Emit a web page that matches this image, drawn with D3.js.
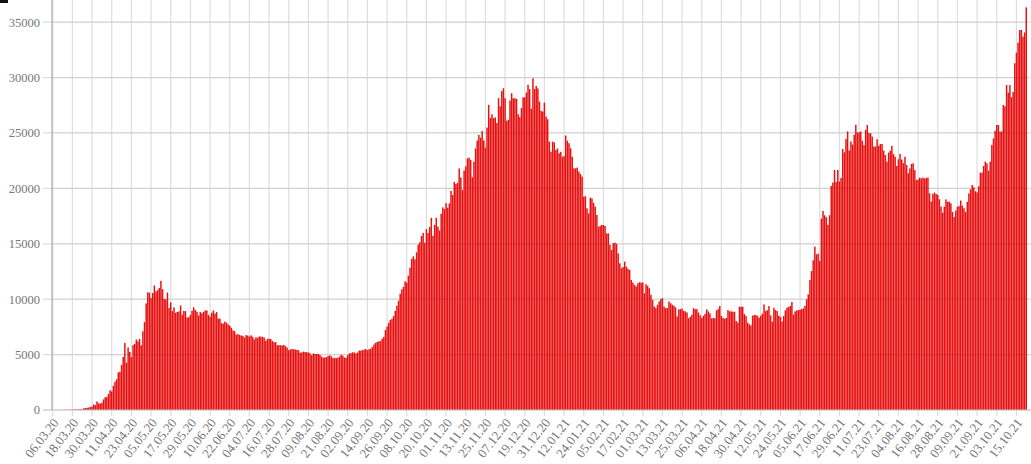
<!DOCTYPE html>
<html><head><meta charset="utf-8">
<script src="https://cdn.jsdelivr.net/npm/d3@7"></script>
<style>body{margin:0;background:#fff;overflow:hidden} svg{display:block}</style>
</head><body>
<svg id="c" width="1031" height="464"></svg>
<script>
// Daily values, one array per month (first array starts on 06.03.2020)
const mar20 = [0,6,3,1,3,8,6,17,14,4,30,21,33,52,54,53,61,71,57,163,182,196,228,270,302,501];
const apr20 = [440,771,601,582,658,954,1154,1175,1459,1786,1667,2186,2558,2774,3388,3448,4070,4785,6060,4268,5642,5236,4774,5849,5966,6361,6198,6411,5841,7099];
const may20 = [7933,9623,10633,10581,10102,10559,11231,10699,10817,11012,11656,10899,10028,9974,10598,9200,9709,8926,9263,8764,8849,8894,9434,8599,8946,8915,8338,8371,8572,8952,9268];
const jun20 = [9035,8863,8536,8831,8726,8855,8984,8985,8595,8404,8779,8987,8706,8835,8246,8248,7843,7790,7972,7889,7728,7600,7425,7176,7113,6800,6852,6791,6719,6693];
const jul20 = [6556,6760,6718,6632,6736,6611,6368,6562,6509,6635,6611,6615,6537,6248,6422,6428,6406,6234,6109,6139,5842,5862,5848,5811,5871,5765,5635,5395,5475,5509,5482];
const aug20 = [5462,5427,5394,5159,5204,5267,5241,5212,5189,5118,4945,5102,5057,5061,5065,4969,4839,4718,4748,4767,4870,4921,4852,4687,4696,4676,4711,4829,4980,4897,4729];
const sep20 = [4729,4952,5110,5130,5205,5195,5099,5185,5363,5363,5406,5449,5509,5394,5488,5529,5670,5905,6065,6148,6196,6215,6431,6595,7212,7523,7867,8135,8232,8481];
const oct20 = [8945,9412,9859,10499,10888,11115,11615,11493,12126,12846,13634,13868,13592,14231,14922,15150,15700,15982,15099,16319,15971,16521,17340,15710,16710,17347,16550,16202,17717,18283,18140];
const nov20 = [18665,18257,18648,19768,19404,20582,20396,20498,21798,20977,19851,21608,21983,22702,22778,22572,21000,22410,23610,24318,24822,24581,25173,24326,23675,25487,27543,26338,26683,26338];
const dec20 = [26402,25900,28145,27403,28782,29039,28137,26097,26190,27927,28585,28137,28134,28080,26689,26431,27250,28214,28209,28650,29350,28950,27200,29935,28970,29240,29018,27830,27000,26930,27740];
const jan21 = [26480,26240,24220,23310,24220,24150,23460,23600,23160,23300,22860,22900,24770,24300,24080,23620,22850,21810,21800,21880,21510,21300,21060,19250,19290,18200,17750,19160,19100,18700,18350];
const feb21 = [17600,16540,16600,16690,16690,16600,15940,15940,14900,14440,15040,15100,15000,14140,13240,12790,12900,13390,12940,12740,12640,11740,11500,11290,11140,11440,11530,11500];
const mar21 = [11500,10540,11350,11200,10990,10400,9940,9340,9200,9500,9790,10000,10090,9340,9190,9200,9790,9640,9500,9400,9270,8430,9090,9100,9150,8940,8900,8800,8280,8400,8600];
const apr21 = [9190,9100,9100,8800,8550,8300,8500,8660,9080,8900,8720,8270,8300,8270,8990,9100,9380,8480,8300,8240,8300,9020,8900,8900,8870,8870,8030,7880,9320,9320];
const may21 = [9320,8660,8480,7880,7730,7640,8510,8570,8570,8500,8330,8510,8700,9530,8930,9000,9380,8540,7980,9230,9020,8930,8510,8400,7980,8480,8990,9230,9300,9380,9740];
const jun21 = [8630,8900,8990,9020,9050,9110,9170,9400,9990,10440,11730,12540,13510,14740,14050,14110,13450,17270,17960,17570,17400,16700,17570,20220,20520,21660,20580,21660,20620,20940];
const jul21 = [23550,23250,24450,25140,23430,24240,23960,24840,25740,25050,25050,25140,24300,23900,25290,25720,24990,24970,24670,23770,23770,24430,23830,24010,24000,23400,23010,22410,23230,23400,23830];
const aug21 = [23100,22860,22020,22620,23100,22600,22270,22860,22110,21360,21800,22200,22260,21650,20750,20800,20980,20900,20980,20900,20940,20980,19560,18810,19500,19620,19500,19400,19010,18350,17810];
const sep21 = [18350,19010,18800,18800,18650,17870,17420,18000,18350,18400,18900,18450,18200,17870,18780,19550,19920,20310,20100,19740,19640,20200,21420,21420,22020,22410,22260,21600,22410,23910];
const oct21 = [24510,25200,25720,25720,25130,25130,27530,27400,29330,28640,29330,28230,28700,31290,32250,33150,34290,34290,33690,34073,36340];

const monthStarts = ["2020-03-06","2020-04-01","2020-05-01","2020-06-01","2020-07-01","2020-08-01","2020-09-01","2020-10-01","2020-11-01","2020-12-01","2021-01-01","2021-02-01","2021-03-01","2021-04-01","2021-05-01","2021-06-01","2021-07-01","2021-08-01","2021-09-01","2021-10-01"];
const monthValues = [mar20,apr20,may20,jun20,jul20,aug20,sep20,oct20,nov20,dec20,jan21,feb21,mar21,apr21,may21,jun21,jul21,aug21,sep21,oct21];

const tickLabels = ["06.03.20","18.03.20","30.03.20","11.04.20","23.04.20","05.05.20","17.05.20","29.05.20","10.06.20","22.06.20","04.07.20","16.07.20","28.07.20","09.08.20","21.08.20","02.09.20","14.09.20","26.09.20","08.10.20","20.10.20","01.11.20","13.11.20","25.11.20","07.12.20","19.12.20","31.12.20","12.01.21","24.01.21","05.02.21","17.02.21","01.03.21","13.03.21","25.03.21","06.04.21","18.04.21","30.04.21","12.05.21","24.05.21","05.06.21","17.06.21","29.06.21","11.07.21","23.07.21","04.08.21","16.08.21","28.08.21","09.09.21","21.09.21","03.10.21","15.10.21"];
const yTicks = [0,5000,10000,15000,20000,25000,30000,35000];

(function () {
const W = 1031, H = 464;
const pLeft = 52, pRight = 1027, pTop = 0, pBottom = 410;
const parse = d3.utcParse("%Y-%m-%d");
const fmt = d3.utcFormat("%d.%m.%y");

const data = [];
monthValues.forEach((vals, k) => {
  const s = parse(monthStarts[k]);
  vals.forEach((v, i) => data.push({ key: fmt(d3.utcDay.offset(s, i)), value: v }));
});

const x = d3.scaleBand().domain(data.map(d => d.key)).range([pLeft, pRight]).paddingInner(0.1).paddingOuter(0);
const y = d3.scaleLinear().domain([0, 37000]).range([pBottom, pTop]);

const svg = d3.select("#c");
const font = "'Liberation Serif', 'DejaVu Serif', serif";
const tx = k => x(k) + x.bandwidth() / 2;

svg.append("g").selectAll("line").data(tickLabels).join("line")
  .attr("x1", tx).attr("x2", tx).attr("y1", 0).attr("y2", pBottom + 6)
  .attr("stroke", "#dddddd").attr("stroke-width", 1.2);
svg.append("g").selectAll("line").data(yTicks).join("line")
  .attr("x1", 43).attr("x2", W).attr("y1", d => y(d)).attr("y2", d => y(d))
  .attr("stroke", "#dddddd").attr("stroke-width", 1.2);

svg.append("g").selectAll("rect").data(data).join("rect")
  .attr("x", d => x(d.key)).attr("width", x.bandwidth())
  .attr("y", d => y(d.value)).attr("height", d => y(0) - y(d.value))
  .attr("fill", "#e81111");

svg.append("g").selectAll("line").data(yTicks.slice(1)).join("line")
  .attr("x1", pLeft).attr("x2", pRight).attr("y1", d => y(d)).attr("y2", d => y(d))
  .attr("stroke", "rgba(0,0,0,0.06)").attr("stroke-width", 1.2);

svg.append("line").attr("x1", 43).attr("x2", W).attr("y1", pBottom).attr("y2", pBottom)
  .attr("stroke", "#c8c8c8").attr("stroke-width", 1.2);
svg.append("line").attr("x1", pLeft).attr("x2", pLeft).attr("y1", 0).attr("y2", pBottom)
  .attr("stroke", "#aaaaaa").attr("stroke-width", 1.2);

svg.append("g").selectAll("text").data(yTicks).join("text")
  .attr("x", 40).attr("y", d => y(d)).attr("dy", "0.35em")
  .attr("text-anchor", "end").attr("font-family", font).attr("font-size", 12.5)
  .attr("fill", "#777").text(d => d);

svg.append("g").selectAll("text").data(tickLabels).join("text")
  .attr("transform", d => `translate(${tx(d) + 3},${pBottom + 10}) rotate(-52)`)
  .attr("text-anchor", "end").attr("dy", "0.35em")
  .attr("font-family", font).attr("font-size", 13)
  .attr("fill", "#777").text(d => d);

svg.append("rect").attr("x", 0).attr("y", 0).attr("width", 8).attr("height", 3).attr("fill", "#111");
})();
</script>
</body></html>
